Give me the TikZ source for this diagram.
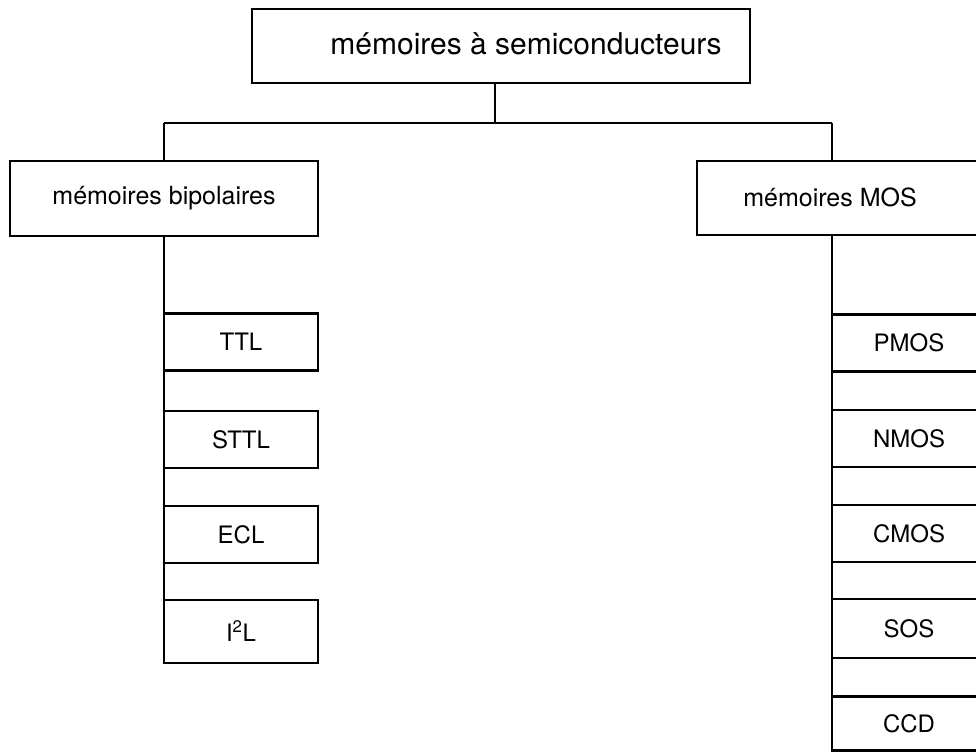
\documentclass[tikz,border=0pt]{standalone}
\usepackage{fontspec}
\setmainfont{TeX Gyre Heros}
\begin{document}
\begin{tikzpicture}[x=1pt,y=-1pt,
  line width=2.2pt,
  box/.style={draw, inner sep=0pt, rectangle},
  big/.style={font=\fontsize{30}{34}\selectfont},
  mid/.style={font=\fontsize{25}{30}\selectfont},
  small/.style={font=\fontsize{24}{28}\selectfont},
  leaf/.style={box, small, minimum width=154pt, minimum height=57pt},
]
\useasboundingbox (0,0) rectangle (976,752);
\clip (0,0) rectangle (976,752);

% root
\node[box, minimum width=498pt, minimum height=74pt] (root) at (501,46) {};
\node[big] (rootlabel) at (526,44) {mémoires à semiconducteurs};

% second level
\node[box, mid, minimum width=308pt, minimum height=75pt] (bipol) at (164,198.5) {mémoires bipolaires};
\node[box, minimum width=320pt, minimum height=74pt] (mos) at (857,198) {};
\node[mid] (moslabel) at (830,197) {mémoires MOS};

% bus between the levels
\coordinate (stem) at (495,123);
\coordinate (busL) at (164,123);
\coordinate (busR) at (832,123);
\draw (root.south -| stem) -- (stem);
\draw (busL) -- (busR);
\draw (busL) -- (bipol.north);
\draw (busR) -- (busR |- mos.north);

% bipolar families
\node[leaf] (ttl)  at (241,342)   {TTL};
\node[leaf] (sttl) at (241,439.5) {STTL};
\node[leaf] (ecl)  at (241,534.5) {ECL};
\node[leaf, minimum height=63pt] (i2l) at (241,631.5) {I\textsuperscript{2}L};
\draw (bipol.south) -- (bipol.south |- i2l.south);

% MOS families
\node[leaf] (pmos) at (909,343)   {PMOS};
\node[leaf] (nmos) at (909,438.5) {NMOS};
\node[leaf] (cmos) at (909,533.5) {CMOS};
\node[leaf, minimum height=59pt] (sos) at (909,628.5) {SOS};
\node[leaf, minimum height=54pt] (ccd) at (909,723.5) {CCD};
\draw (busR |- mos.south) -- (busR |- ccd.south);
\end{tikzpicture}
\end{document}
